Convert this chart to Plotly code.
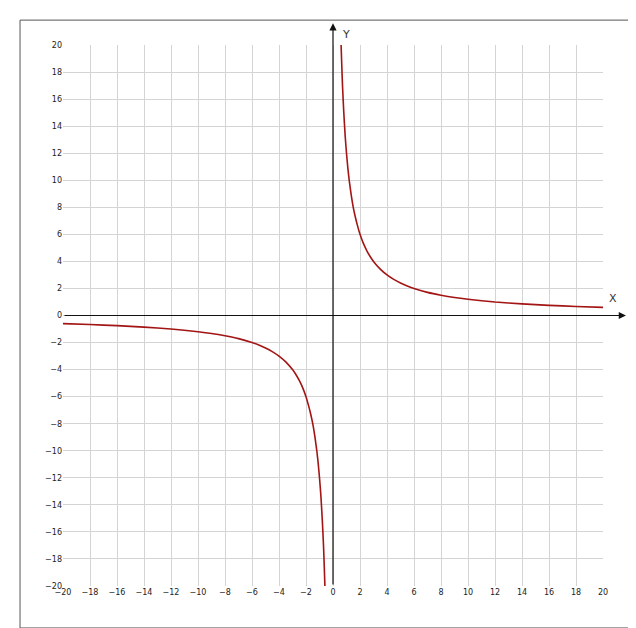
import plotly.graph_objects as go

x_pos = [0.6, 0.65, 0.7, 0.75, 0.8, 0.9, 1.0, 1.1, 1.2, 1.35, 1.5, 1.65, 1.8, 2.0, 2.25, 2.5, 2.75, 3.0, 3.5, 4.0, 4.5, 5.0, 5.5, 6.0, 7.0, 8.0, 9.0, 10.0, 12.0, 14.0, 16.0, 18.0, 20.0]
y_pos = [20.0, 18.5, 17.1, 16.0, 15.0, 13.3, 12.0, 10.9, 10.0, 8.9, 8.0, 7.3, 6.7, 6.0, 5.33, 4.8, 4.36, 4.0, 3.43, 3.0, 2.67, 2.4, 2.18, 2.0, 1.71, 1.5, 1.33, 1.2, 1.0, 0.86, 0.75, 0.67, 0.6]
x_neg = [-v for v in x_pos]
y_neg = [-v for v in y_pos]
ticks = list(range(-20, 21, 2))

red = "#a31515"
fig = go.Figure()
fig.add_trace(go.Scatter(x=x_pos, y=y_pos, mode="lines", line=dict(color=red, width=1.6, shape="spline", smoothing=0.6)))
fig.add_trace(go.Scatter(x=x_neg, y=y_neg, mode="lines", line=dict(color=red, width=1.6, shape="spline", smoothing=0.6)))

axcommon = dict(range=[-20, 20], tickvals=ticks, showgrid=True, gridcolor="#d4d4d4", gridwidth=1,
                zeroline=False, showline=False, ticks="", tickfont=dict(family="DejaVu Sans", size=8, color="#222"),
                fixedrange=True, automargin=False)
fig.update_xaxes(**axcommon)
fig.update_yaxes(**axcommon)

fig.add_annotation(x=21.7, y=0, ax=-20, ay=0, axref="x", ayref="y", xref="x", yref="y", text="",
                   showarrow=True, arrowhead=2, arrowsize=1.2, arrowwidth=1.2, arrowcolor="#111")
fig.add_annotation(x=0, y=21.6, ax=0, ay=-20, axref="x", ayref="y", xref="x", yref="y", text="",
                   showarrow=True, arrowhead=2, arrowsize=1.2, arrowwidth=1.2, arrowcolor="#111")
fig.add_annotation(x=1.0296, y=0.5305, xref="paper", yref="paper", text="X", showarrow=False,
                   font=dict(family="DejaVu Sans", size=11, color="#333"))
fig.add_annotation(x=0.524, y=1.035, xref="paper", yref="paper", text="Y", showarrow=False,
                   font=dict(family="DejaVu Sans", size=11, color="#333"))

fig.add_shape(type="rect", xref="paper", yref="paper", x0=-0.0796, x1=1.0556, y0=-0.0776, y1=1.046,
              line=dict(color="#555", width=1))

fig.update_layout(width=636, height=628, margin=dict(l=55, r=41, t=37, b=50, autoexpand=False),
                  plot_bgcolor="white", paper_bgcolor="white", showlegend=False)
fig.write_html("out.html")
